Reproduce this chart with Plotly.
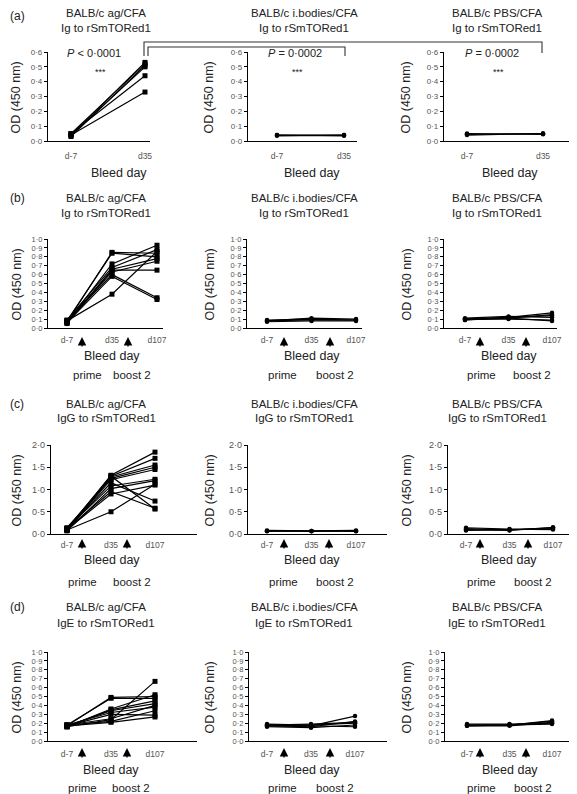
import plotly.graph_objects as go

# page is 577x794; the html body has an 8px margin, so the figure is offset by 8px
PAGE_W, PAGE_H = 577, 794
OFF = 8
W, H = PAGE_W - OFF, PAGE_H - OFF

# ---------------- data ----------------
days_a = ["d-7", "d35"]
days_bcd = ["d-7", "d35", "d107"]

# (a) Ig to rSmTORed1 (per mouse: d-7, d35)
a_ag = [[0.04, 0.53], [0.05, 0.52], [0.03, 0.51], [0.04, 0.50], [0.05, 0.44], [0.04, 0.33]]
a_ib = [[0.04, 0.04], [0.035, 0.04], [0.04, 0.035]]
a_pbs = [[0.04, 0.05], [0.05, 0.045], [0.045, 0.05]]

# (b) Ig to rSmTORed1 (per mouse: d-7, d35, d107)
b_ag = [[0.07, 0.85, 0.84], [0.08, 0.84, 0.80], [0.06, 0.72, 0.93], [0.09, 0.68, 0.88],
        [0.05, 0.66, 0.78], [0.07, 0.63, 0.75], [0.08, 0.60, 0.34], [0.06, 0.58, 0.32],
        [0.07, 0.65, 0.65], [0.08, 0.38, 0.86]]
b_ib = [[0.07, 0.08, 0.08], [0.09, 0.10, 0.09], [0.08, 0.11, 0.10], [0.08, 0.09, 0.09]]
b_pbs = [[0.10, 0.12, 0.17], [0.09, 0.11, 0.15], [0.11, 0.13, 0.12], [0.10, 0.10, 0.09],
         [0.09, 0.12, 0.14], [0.10, 0.11, 0.08]]

# (c) IgG to rSmTORed1
c_ag = [[0.10, 1.32, 1.84], [0.12, 1.30, 1.70], [0.08, 1.28, 1.55], [0.14, 1.25, 1.50],
        [0.10, 1.22, 1.45], [0.09, 1.30, 0.56], [0.11, 1.15, 0.74], [0.13, 1.08, 1.23],
        [0.07, 1.02, 1.20], [0.12, 0.95, 0.58], [0.10, 0.90, 1.10], [0.09, 0.50, 1.12]]
c_ib = [[0.07, 0.06, 0.07], [0.08, 0.07, 0.08], [0.06, 0.07, 0.06]]
c_pbs = [[0.12, 0.09, 0.14], [0.08, 0.10, 0.12], [0.10, 0.08, 0.15], [0.14, 0.11, 0.10]]

# (d) IgE to rSmTORed1
d_ag = [[0.17, 0.49, 0.50], [0.18, 0.48, 0.48], [0.16, 0.36, 0.52], [0.17, 0.34, 0.42],
        [0.18, 0.32, 0.38], [0.17, 0.30, 0.29], [0.16, 0.24, 0.67], [0.18, 0.22, 0.34],
        [0.17, 0.21, 0.27], [0.16, 0.35, 0.45], [0.18, 0.25, 0.40]]
d_ib = [[0.18, 0.17, 0.28], [0.17, 0.16, 0.22], [0.19, 0.18, 0.20], [0.16, 0.15, 0.18],
        [0.18, 0.19, 0.21], [0.17, 0.17, 0.16]]
d_pbs = [[0.18, 0.18, 0.23], [0.17, 0.17, 0.21], [0.19, 0.19, 0.20], [0.18, 0.18, 0.19],
         [0.17, 0.18, 0.22]]

groups = ["BALB/c ag/CFA", "BALB/c i.bodies/CFA", "BALB/c PBS/CFA"]
row_ab = ["Ig to rSmTORed1", "Ig to rSmTORed1", "IgG to rSmTORed1", "IgE to rSmTORed1"]
yticks_a = [0.0, 0.1, 0.2, 0.3, 0.4, 0.5, 0.6]
yticks_bd = [0.0, 0.1, 0.2, 0.3, 0.4, 0.5, 0.6, 0.7, 0.8, 0.9, 1.0]
yticks_c = [0.0, 0.5, 1.0, 1.5, 2.0]

# ---------------- layout helpers (page pixels -> paper) ----------------
def px(x):
    return (x - OFF) / W

def py(y):
    return 1 - (y - OFF) / H

# panel geometry: axis left, axis right, first category px, spacing px
rows = [
    dict(ymax=0.6, ticks=yticks_a, days=days_a, ytop=52, ybot=141, fs=8, so=7,
         panels=[(48, 150, 71, 74), (248, 357, 277, 67), (444, 577, 467, 76)],
         data=[a_ag, a_ib, a_pbs], title_y=(13, 28), letter_y=16, bleed_y=173,
         bleed_x=(119, 312, 510)),
    dict(ymax=1.0, ticks=yticks_bd, days=days_bcd, ytop=239, ybot=328, fs=7.5, so=4,
         panels=[(48, 163, 67, 45), (247, 362, 267, 44.5), (444, 557, 465, 43.5)],
         data=[b_ag, b_ib, b_pbs], title_y=(198, 213), letter_y=198, bleed_y=356,
         bleed_x=(112, 312, 509),
         arrows=[(82, 128), (284, 330), (480, 526)], arrow_y=337,
         labels=[(87, 132), (282, 335), (481, 532)], label_y=375),
    dict(ymax=2.0, ticks=yticks_c, days=days_bcd, ytop=445, ybot=534, fs=9, so=3,
         panels=[(51, 197, 67, 44), (248, 387, 267, 44.5), (448, 577, 466, 43.5)],
         data=[c_ag, c_ib, c_pbs], title_y=(404, 418), letter_y=404, bleed_y=560,
         bleed_x=(112, 312, 509),
         arrows=[(82, 127), (284, 329), (480, 528)], arrow_y=539,
         labels=[(82, 132), (283, 335), (481, 533)], label_y=582),
    dict(ymax=1.0, ticks=yticks_bd, days=days_bcd, ytop=652, ybot=741, fs=7.5, so=5,
         panels=[(48, 197, 67, 44), (249, 387, 267, 44), (445, 577, 467, 42.5)],
         data=[d_ag, d_ib, d_pbs], title_y=(607, 623), letter_y=607, bleed_y=770,
         bleed_x=(111, 312, 510),
         arrows=[(82, 127), (284, 330), (480, 526)], arrow_y=748,
         labels=[(82, 131), (282, 335), (481, 533)], label_y=788),
]
title_x = [106, 304, 497]
ytitle_x = [16, 209, 406]
row_letters = ["(a)", "(b)", "(c)", "(d)"]

fig = go.Figure()
layout = {}
annotations = []
shapes = []
FONT = "Liberation Sans, Arial, sans-serif"
TXT = "#222"

k = 0
for r, row in enumerate(rows):
    for c, (L, R, p0, s) in enumerate(row["panels"]):
        k += 1
        xa = "xaxis" if k == 1 else f"xaxis{k}"
        ya = "yaxis" if k == 1 else f"yaxis{k}"
        xr = "x" if k == 1 else f"x{k}"
        yr = "y" if k == 1 else f"y{k}"
        ncat = len(row["days"])
        layout[xa] = dict(
            domain=[px(L), min(px(R), 1.0)], anchor=yr, automargin=False,
            range=[(L - p0) / s, (min(R, PAGE_W) - p0) / s],
            tickvals=list(range(ncat)), ticktext=row["days"],
            showline=True, linecolor="black", linewidth=1.3,
            ticks="", showgrid=False, zeroline=False,
            tickfont=dict(size=8.5, color="#555", family=FONT),
            ticklabelstandoff=row["so"],
        )
        layout[ya] = dict(
            domain=[py(row["ybot"]), py(row["ytop"])], anchor=xr, automargin=False,
            range=[0, row["ymax"]],
            tickvals=row["ticks"],
            ticktext=[f"{v:.1f}".replace(".", "·") for v in row["ticks"]],
            showline=True, linecolor="black", linewidth=1.3,
            ticks="outside", ticklen=3, tickcolor="black", tickwidth=1,
            showgrid=False, zeroline=False,
            tickfont=dict(size=row["fs"], color="#555", family=FONT),
        )
        sym = "square" if c == 0 else "circle"
        msize = 5 if c == 0 else 4.5
        for mouse in row["data"][c]:
            fig.add_trace(go.Scatter(
                x=list(range(ncat)), y=mouse, xaxis=xr, yaxis=yr,
                mode="lines+markers", cliponaxis=False, showlegend=False,
                line=dict(color="black", width=1.2),
                marker=dict(symbol=sym, size=msize, color="black"),
            ))
        # titles
        annotations.append(dict(x=px(title_x[c]), y=py(row["title_y"][0]), xref="paper", yref="paper",
                                text=groups[c], showarrow=False, xanchor="center", yanchor="middle",
                                font=dict(size=11.5, color=TXT, family=FONT)))
        annotations.append(dict(x=px(title_x[c]), y=py(row["title_y"][1]), xref="paper", yref="paper",
                                text=row_ab[r], showarrow=False, xanchor="center", yanchor="middle",
                                font=dict(size=11.5, color=TXT, family=FONT)))
        # y axis title
        annotations.append(dict(x=px(ytitle_x[c]), y=py((row["ytop"] + row["ybot"]) / 2 + 1),
                                xref="paper", yref="paper", text="OD (450 nm)", textangle=-90,
                                showarrow=False, xanchor="center", yanchor="middle", borderpad=0,
                                font=dict(size=12.5, color=TXT, family=FONT)))
        # x axis title
        annotations.append(dict(x=px(row["bleed_x"][c]), y=py(row["bleed_y"]), xref="paper", yref="paper",
                                text="Bleed day", showarrow=False, xanchor="center", yanchor="middle",
                                font=dict(size=12.5, color=TXT, family=FONT)))
        if "arrows" in row:
            for ax_px in row["arrows"][c]:
                annotations.append(dict(x=px(ax_px), y=py(row["arrow_y"]), xref="paper", yref="paper",
                                        text="", showarrow=True, arrowhead=2, arrowsize=1.3,
                                        arrowwidth=1.3, arrowcolor="black", ax=0, ay=11))
            for lab_px, lab in zip(row["labels"][c], ["prime", "boost 2"]):
                annotations.append(dict(x=px(lab_px), y=py(row["label_y"]), xref="paper", yref="paper",
                                        text=lab, showarrow=False, xanchor="center", yanchor="middle",
                                        font=dict(size=11.5, color=TXT, family=FONT)))
    annotations.append(dict(x=px(OFF + 1), y=py(row["letter_y"]), xref="paper", yref="paper",
                            text=row_letters[r], showarrow=False, xanchor="left", yanchor="middle",
                            borderpad=0, font=dict(size=12, color=TXT, family=FONT)))

# p-values for (a)
pvals = [("<i>P</i> < 0·0001", 94), ("<i>P</i> = 0·0002", 295), ("<i>P</i> = 0·0002", 492)]
stars_x = [100, 297, 498]
for (t, x), sx in zip(pvals, stars_x):
    annotations.append(dict(x=px(x), y=py(53), xref="paper", yref="paper", text=t, showarrow=False,
                            xanchor="center", yanchor="middle", font=dict(size=11, color=TXT, family=FONT)))
    annotations.append(dict(x=px(sx), y=py(72), xref="paper", yref="paper", text="***", showarrow=False,
                            xanchor="center", yanchor="middle", font=dict(size=9, color=TXT, family=FONT)))

# comparison brackets
def path(pts):
    d = "M " + " L ".join(f"{px(x)},{py(y)}" for x, y in pts)
    return dict(type="path", path=d, xref="paper", yref="paper",
                line=dict(color="#333", width=1.1))

shapes.append(path([(144, 56), (144, 42), (542, 42), (542, 53)]))
shapes.append(path([(148, 56), (148, 47), (345, 47), (345, 56)]))

fig.update_layout(
    width=W, height=H, margin=dict(l=0, r=0, t=0, b=0, autoexpand=False),
    paper_bgcolor="white", plot_bgcolor="white",
    annotations=annotations, shapes=shapes, **layout,
)
fig.write_html("out.html")
